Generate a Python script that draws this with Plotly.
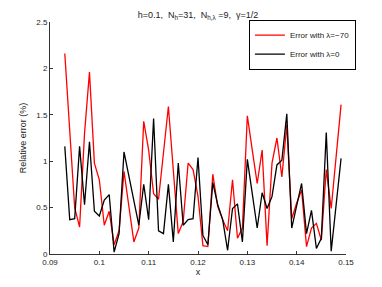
import plotly.graph_objects as go

x_vals = [round(0.093 + 0.001 * i, 3) for i in range(57)]

err_lambda_m70 = [
    2.16, 1.30, 0.50, 0.29, 1.30, 1.96, 0.98, 0.80, 0.31, 0.46,
    0.10, 0.25, 0.89, 0.51, 0.13, 0.28, 1.43, 1.12, 0.65, 0.59,
    1.08, 1.59, 0.90, 0.22, 0.35, 0.98, 0.91, 0.62, 0.09, 0.08,
    0.86, 0.51, 0.37, 0.25, 0.80, 0.17, 0.28, 1.49, 1.12, 0.76,
    1.12, 0.09, 0.98, 1.25, 0.83, 1.39, 0.38, 0.55, 0.69, 0.08,
    0.28, 0.33, 0.15, 0.91, 0.49, 1.05, 1.61,
]

err_lambda_0 = [
    1.16, 0.37, 0.38, 1.16, 0.53, 1.21, 0.46, 0.41, 0.58, 0.64,
    0.02, 0.22, 1.10, 0.84, 0.57, 0.31, 0.75, 0.37, 1.46, 0.25,
    0.22, 0.75, 0.13, 0.98, 0.31, 0.37, 0.38, 1.04, 0.20, 0.10,
    0.77, 0.53, 0.37, 0.04, 0.49, 0.54, 0.13, 1.02, 0.65, 0.28,
    0.66, 0.49, 0.62, 0.96, 1.01, 1.51, 0.28, 0.51, 0.76, 0.22,
    0.47, 0.06, 0.17, 1.31, 0.03, 0.53, 1.03,
]

x_ticks = [0.09, 0.10, 0.11, 0.12, 0.13, 0.14, 0.15]
x_tick_labels = ["0.09", "0.1", "0.11", "0.12", "0.13", "0.14", "0.15"]
y_ticks = [0, 0.5, 1, 1.5, 2, 2.5]
y_tick_labels = ["0", "0.5", "1", "1.5", "2", "2.5"]

FONT = "Liberation Sans, Arial, Helvetica, sans-serif"

fig = go.Figure()
fig.add_trace(go.Scatter(
    x=x_vals, y=err_lambda_m70, mode="lines",
    line=dict(color="#ff0000", width=1.3),
    name="Error with λ=−70",
))
fig.add_trace(go.Scatter(
    x=x_vals, y=err_lambda_0, mode="lines",
    line=dict(color="#000000", width=1.3),
    name="Error with λ=0",
))

axis_common = dict(
    showgrid=False, zeroline=False, showline=True, linecolor="#333333",
    linewidth=1, ticks="inside", ticklen=3, tickcolor="#333333",
    tickfont=dict(family=FONT, size=8, color="#222222"),
    mirror=False, automargin=False,
)

# page body has an 8px default margin, so the figure is sized and placed to compensate
fig.update_layout(
    width=374, height=279,
    margin=dict(l=42, r=36, t=14, b=33),
    paper_bgcolor="white", plot_bgcolor="white",
    title=dict(
        text="h=0.1,  N<sub>h</sub>=31,  N<sub>h,λ</sub> =9,  γ=1/2",
        x=0.508, xanchor="center", y=0.975, yanchor="middle",
        font=dict(family=FONT, size=9, color="#222222"),
    ),
    xaxis=dict(
        range=[0.09, 0.15], tickvals=x_ticks, ticktext=x_tick_labels,
        title=dict(text="x", font=dict(family=FONT, size=9, color="#222222"), standoff=2),
        **axis_common,
    ),
    yaxis=dict(
        range=[0, 2.5], tickvals=y_ticks, ticktext=y_tick_labels,
        title=dict(text="Relative error (%)", font=dict(family=FONT, size=9, color="#222222"), standoff=8),
        **axis_common,
    ),
    legend=dict(
        x=0.672, y=1.01, xanchor="left", yanchor="top",
        bgcolor="white", bordercolor="#000000", borderwidth=1,
        font=dict(family=FONT, size=8, color="#222222"),
        itemwidth=30, tracegroupgap=0,
    ),
    showlegend=True,
)

fig.write_html("out.html")
